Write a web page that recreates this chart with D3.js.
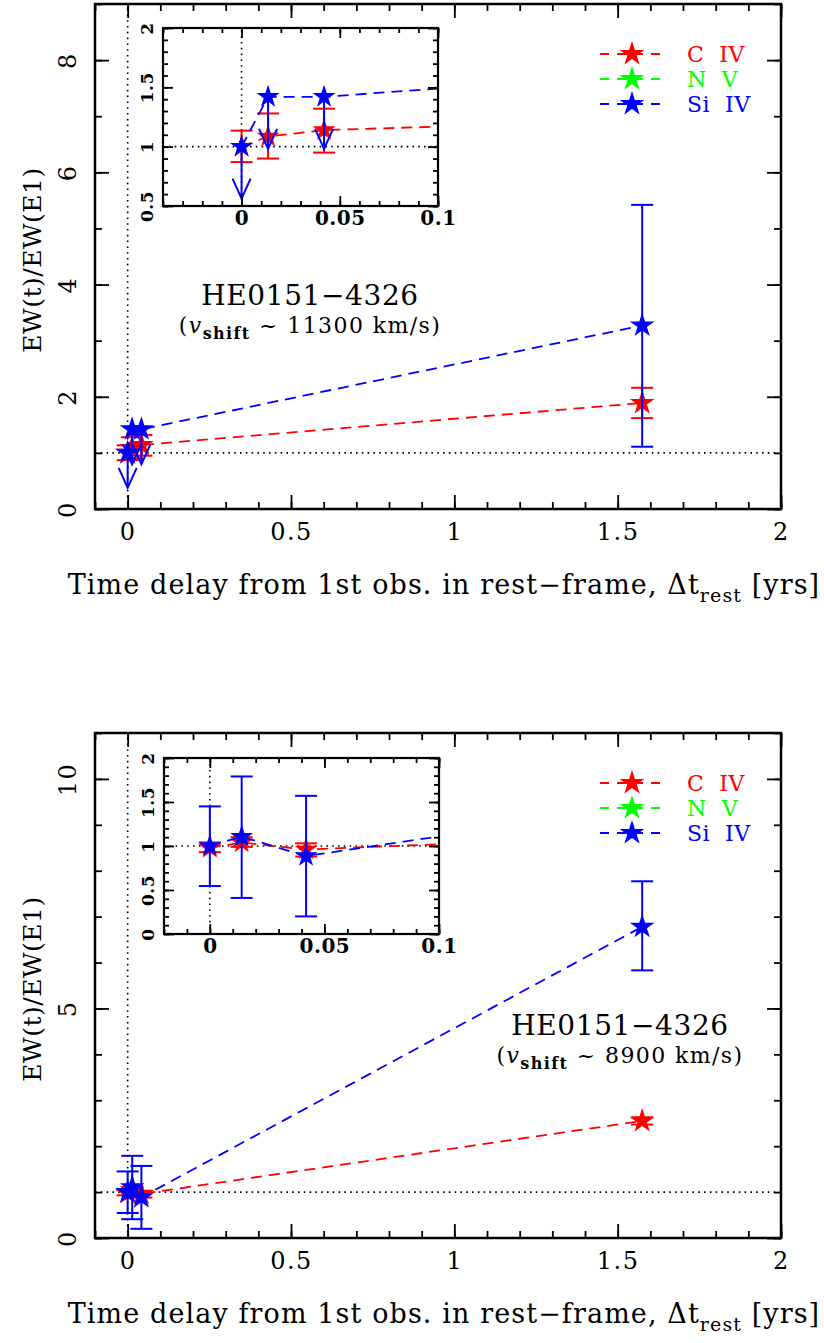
<!DOCTYPE html>
<html>
<head>
<meta charset="utf-8">
<script src="https://cdn.jsdelivr.net/npm/d3@7"></script>
<style>
  body { margin: 0; background: #fff; }
  text { font-family: "DejaVu Serif", serif; fill: #000; }
</style>
</head>
<body>
<div id="chart"></div>
<script>
// ---- data ----
// upper panel (v_shift ~ 11300 km/s)
var topTimes = [0, 0.0135, 0.042, 1.575];
var topCIV = [1.0, 1.085, 1.14, 1.89];
var topCIVLo = [0.87, 0.90, 0.95, 1.62];
var topCIVHi = [1.135, 1.28, 1.32, 2.16];
var topSiIV = [1.0, 1.42, 1.42, 3.27];
var topSiIVLo = [null, null, null, 1.11];
var topSiIVHi = [null, null, null, 5.42];
var topSiIVUpperLimit = [true, true, true, false];

// lower panel (v_shift ~ 8900 km/s)
var botTimes = [0, 0.0139, 0.042, 1.575];
var botCIV = [0.98, 1.04, 0.96, 2.55];
var botCIVLo = [0.93, 0.99, 0.88, 2.47];
var botCIVHi = [1.04, 1.10, 1.03, 2.63];
var botSiIV = [1.0, 1.105, 0.886, 6.78];
var botSiIVLo = [0.545, 0.41, 0.20, 5.83];
var botSiIVHi = [1.45, 1.79, 1.57, 7.77];

// N V is in the legend only
var nvValues = [];

var ions = ["C  IV", "N  V", "Si  IV"];
var ionColors = ["#ff0000", "#00ff00", "#0000ff"];

// tick labels
var mainXTicks = [0, 0.5, 1, 1.5, 2];
var topYTicks = [0, 2, 4, 6, 8];
var botYTicks = [0, 5, 10];
var topInsetXTicks = [0, 0.05, 0.1];
var botInsetXTicks = [0, 0.05, 0.1];
var topInsetYTicks = [0.5, 1, 1.5, 2];
var botInsetYTicks = [0, 0.5, 1, 1.5, 2];

var W = 824, H = 1343;
var svg = d3.select('#chart').append('svg')
  .attr('width', W).attr('height', H);

var clipId = 0;

// pgplot style box: ticks inside on all four sides
function box(g, x, y, o) {
  var xr = x.range(), yr = y.range();
  [[o.xMajor, o.big], [o.xMinor, o.small]].forEach(function (s) {
    g.append('g').attr('class', 'tk').attr('transform', `translate(0,${yr[0]})`)
      .call(d3.axisBottom(x).tickValues(s[0]).tickSize(-s[1]).tickFormat(''));
    g.append('g').attr('class', 'tk').attr('transform', `translate(0,${yr[1]})`)
      .call(d3.axisTop(x).tickValues(s[0]).tickSize(-s[1]).tickFormat(''));
  });
  [[o.yMajor, o.big], [o.yMinor, o.small]].forEach(function (s) {
    g.append('g').attr('class', 'tk').attr('transform', `translate(${xr[0]},0)`)
      .call(d3.axisLeft(y).tickValues(s[0]).tickSize(-s[1]).tickFormat(''));
    g.append('g').attr('class', 'tk').attr('transform', `translate(${xr[1]},0)`)
      .call(d3.axisRight(y).tickValues(s[0]).tickSize(-s[1]).tickFormat(''));
  });
  g.selectAll('.tk .domain').remove();
  g.selectAll('.tk line').attr('stroke', '#000').attr('stroke-width', o.tw);

  // labels
  var xl = g.append('g').attr('transform', `translate(0,${yr[0]})`)
    .call(d3.axisBottom(x).tickValues(o.xMajor).tickSize(0).tickFormat(d => d));
  xl.select('.domain').remove();
  xl.selectAll('text').attr('y', o.xOff).attr('dy', null)
    .attr('font-size', o.xfs).attr('font-weight', o.fw)
    .style('letter-spacing', o.ls + 'px');

  var yl = g.append('g').attr('transform', `translate(${xr[0]},0)`)
    .call(d3.axisLeft(y).tickValues(o.yMajor).tickSize(0).tickFormat(d => d));
  yl.select('.domain').remove();
  yl.selectAll('text').attr('x', null).attr('dy', null)
    .attr('text-anchor', 'middle')
    .attr('transform', `translate(${-o.yOff},0) rotate(-90)`)
    .attr('font-size', o.yfs).attr('font-weight', o.fw)
    .style('letter-spacing', o.ls + 'px');

  g.append('rect')
    .attr('x', xr[0]).attr('y', yr[1])
    .attr('width', xr[1] - xr[0]).attr('height', yr[0] - yr[1])
    .attr('fill', 'none').attr('stroke', '#000').attr('stroke-width', o.fwid);
}

function refLines(g, x, y) {
  var xr = x.range(), yr = y.range();
  g.append('line').attr('x1', xr[0]).attr('x2', xr[1]).attr('y1', y(1)).attr('y2', y(1))
    .attr('stroke', '#000').attr('stroke-width', 1.6).attr('stroke-dasharray', '1.6,4.2');
  g.append('line').attr('x1', x(0)).attr('x2', x(0)).attr('y1', yr[0]).attr('y2', yr[1])
    .attr('stroke', '#000').attr('stroke-width', 1.6).attr('stroke-dasharray', '1.6,4.2');
}

function series(g, x, y, s, st) {
  var pts = s.t.map((t, i) => ({ t: t, v: s.v[i], lo: s.lo ? s.lo[i] : null, hi: s.hi ? s.hi[i] : null, ul: s.ul ? s.ul[i] : false }));
  g.append('path').datum(pts)
    .attr('d', d3.line().x(d => x(d.t)).y(d => y(d.v)))
    .attr('fill', 'none').attr('stroke', s.color).attr('stroke-width', 1.8)
    .attr('stroke-dasharray', '11,7');

  var eb = pts.filter(d => d.lo != null);
  g.selectAll(null).data(eb).join('line')
    .attr('x1', d => x(d.t)).attr('x2', d => x(d.t))
    .attr('y1', d => y(d.lo)).attr('y2', d => y(d.hi))
    .attr('stroke', s.color).attr('stroke-width', 2);
  ['lo', 'hi'].forEach(function (k) {
    g.selectAll(null).data(eb).join('line')
      .attr('x1', d => x(d.t) - st.cap).attr('x2', d => x(d.t) + st.cap)
      .attr('y1', d => y(d[k])).attr('y2', d => y(d[k]))
      .attr('stroke', s.color).attr('stroke-width', 2);
  });

  // upper limits: arrow pointing down
  g.selectAll(null).data(pts.filter(d => d.ul)).join('path')
    .attr('d', function (d) {
      var px = x(d.t), py = y(d.v), tip = py + st.arrow;
      return `M${px},${py}L${px},${tip}M${px - 9},${tip - 20}L${px},${tip}L${px + 9},${tip - 20}`;
    })
    .attr('fill', 'none').attr('stroke', s.color).attr('stroke-width', 2);

  g.selectAll(null).data(pts).join('path')
    .attr('transform', d => `translate(${x(d.t)},${y(d.v)})`)
    .attr('d', d3.symbol(d3.symbolStar, st.star))
    .attr('fill', s.color);
}

function clipGroup(parent, x, y) {
  var id = 'clip' + (clipId++);
  var xr = x.range(), yr = y.range();
  parent.append('clipPath').attr('id', id).append('rect')
    .attr('x', xr[0]).attr('y', yr[1]).attr('width', xr[1] - xr[0]).attr('height', yr[0] - yr[1]);
  return parent.append('g').attr('clip-path', `url(#${id})`);
}

function panel(p) {
  var g = svg.append('g');
  var x = d3.scaleLinear().domain([-0.1, 2]).range([95, 781]);
  var y = d3.scaleLinear().domain(p.yDomain).range([p.top + 505, p.top]);

  var inner = clipGroup(g, x, y);
  refLines(inner, x, y);
  p.series.forEach(s => series(inner, x, y, s, { cap: 11, arrow: 35, star: 190 }));

  box(g, x, y, {
    xMajor: mainXTicks, xMinor: d3.range(-0.1, 2.001, 0.1),
    yMajor: p.yTicks, yMinor: p.yMinor,
    big: 14, small: 7, tw: 2, fwid: 2.5,
    xOff: 31, xfs: 24, yOff: 19, yfs: 24, fw: 'normal', ls: 1.5
  });

  // axis titles
  g.append('text')
    .attr('transform', `translate(41,${p.top + 256}) rotate(-90)`)
    .attr('text-anchor', 'middle').attr('font-size', 25)
    .style('letter-spacing', '0.5px')
    .text('EW(t)/EW(E1)');
  var xt = g.append('text').attr('x', 444).attr('y', p.top + 590)
    .attr('text-anchor', 'middle').attr('font-size', 27)
    .style('letter-spacing', '1.1px');
  xt.append('tspan').text('Time delay from 1st obs. in rest\u2212frame, \u0394t');
  xt.append('tspan').attr('font-size', 19).attr('dy', 8).text('rest');
  xt.append('tspan').attr('dy', -8).text(' [yrs]');

  // annotation
  g.append('text').attr('x', p.labX).attr('y', p.labY)
    .attr('text-anchor', 'middle').attr('font-size', 28)
    .style('letter-spacing', '0.6px').text('HE0151\u22124326');
  var vt = g.append('text').attr('x', p.labX).attr('y', p.labY + 28)
    .attr('text-anchor', 'middle').attr('font-size', 22)
    .style('letter-spacing', '1.4px');
  vt.append('tspan').text('(');
  vt.append('tspan').attr('font-style', 'italic').text('v');
  vt.append('tspan').attr('font-size', 16).attr('font-weight', 'bold').attr('dy', 6).text('shift');
  vt.append('tspan').attr('dy', -6).text(' ~ ' + p.vshift + ' km/s)');

  // legend
  var lg = g.append('g');
  ions.forEach(function (name, i) {
    var ly = p.top + 50 + i * 25;
    lg.append('line').attr('x1', 600).attr('x2', 666).attr('y1', ly).attr('y2', ly)
      .attr('stroke', ionColors[i]).attr('stroke-width', 1.8).attr('stroke-dasharray', '9,8');
    lg.append('path').attr('transform', `translate(632,${ly})`)
      .attr('d', d3.symbol(d3.symbolStar, 190)).attr('fill', ionColors[i]);
    lg.append('text').attr('x', 687).attr('y', ly + 8).attr('font-size', 22)
      .style('fill', ionColors[i]).style('letter-spacing', '0.5px')
      .style('white-space', 'pre').text(name);
  });

  // inset
  var ix = d3.scaleLinear().domain(p.insetX).range(p.insetXR);
  var iy = d3.scaleLinear().domain(p.insetY).range([p.insetYR[1], p.insetYR[0]]);
  g.append('rect').attr('x', p.insetXR[0]).attr('y', p.insetYR[0])
    .attr('width', p.insetXR[1] - p.insetXR[0]).attr('height', p.insetYR[1] - p.insetYR[0])
    .attr('fill', '#fff');
  var ig = clipGroup(g, ix, iy);
  refLines(ig, ix, iy);
  p.series.forEach(s => series(ig, ix, iy, s, { cap: 11, arrow: 52, star: 165 }));
  box(g, ix, iy, {
    xMajor: p.insetXTicks, xMinor: d3.range(p.insetX[0], p.insetX[1] + 1e-6, 0.01),
    yMajor: p.insetYTicks, yMinor: d3.range(p.insetY[0], p.insetY[1] + 1e-6, 0.1),
    big: 10, small: 5, tw: 1.8, fwid: 2.2,
    xOff: 19, xfs: 20, yOff: 10, yfs: 17, fw: 'bold', ls: 0.5
  });
}

panel({
  top: 4, yDomain: [0, 9], yTicks: topYTicks, yMinor: d3.range(0, 9.01, 1),
  labX: 310, labY: 305, vshift: '11300',
  insetX: [-0.04, 0.1], insetXR: [163, 438], insetY: [0.5, 2], insetYR: [28, 206],
  insetXTicks: topInsetXTicks, insetYTicks: topInsetYTicks,
  series: [
    { t: topTimes, v: topCIV, lo: topCIVLo, hi: topCIVHi, color: ionColors[0] },
    { t: topTimes, v: topSiIV, lo: topSiIVLo, hi: topSiIVHi, ul: topSiIVUpperLimit, color: ionColors[2] }
  ]
});

panel({
  top: 733, yDomain: [0, 11], yTicks: botYTicks, yMinor: d3.range(0, 11.01, 1),
  labX: 620, labY: 1035, vshift: '8900',
  insetX: [-0.02, 0.1], insetXR: [164, 439], insetY: [0, 2], insetYR: [758, 934],
  insetXTicks: botInsetXTicks, insetYTicks: botInsetYTicks,
  series: [
    { t: botTimes, v: botCIV, lo: botCIVLo, hi: botCIVHi, color: ionColors[0] },
    { t: botTimes, v: botSiIV, lo: botSiIVLo, hi: botSiIVHi, color: ionColors[2] }
  ]
});
</script>
</body>
</html>
